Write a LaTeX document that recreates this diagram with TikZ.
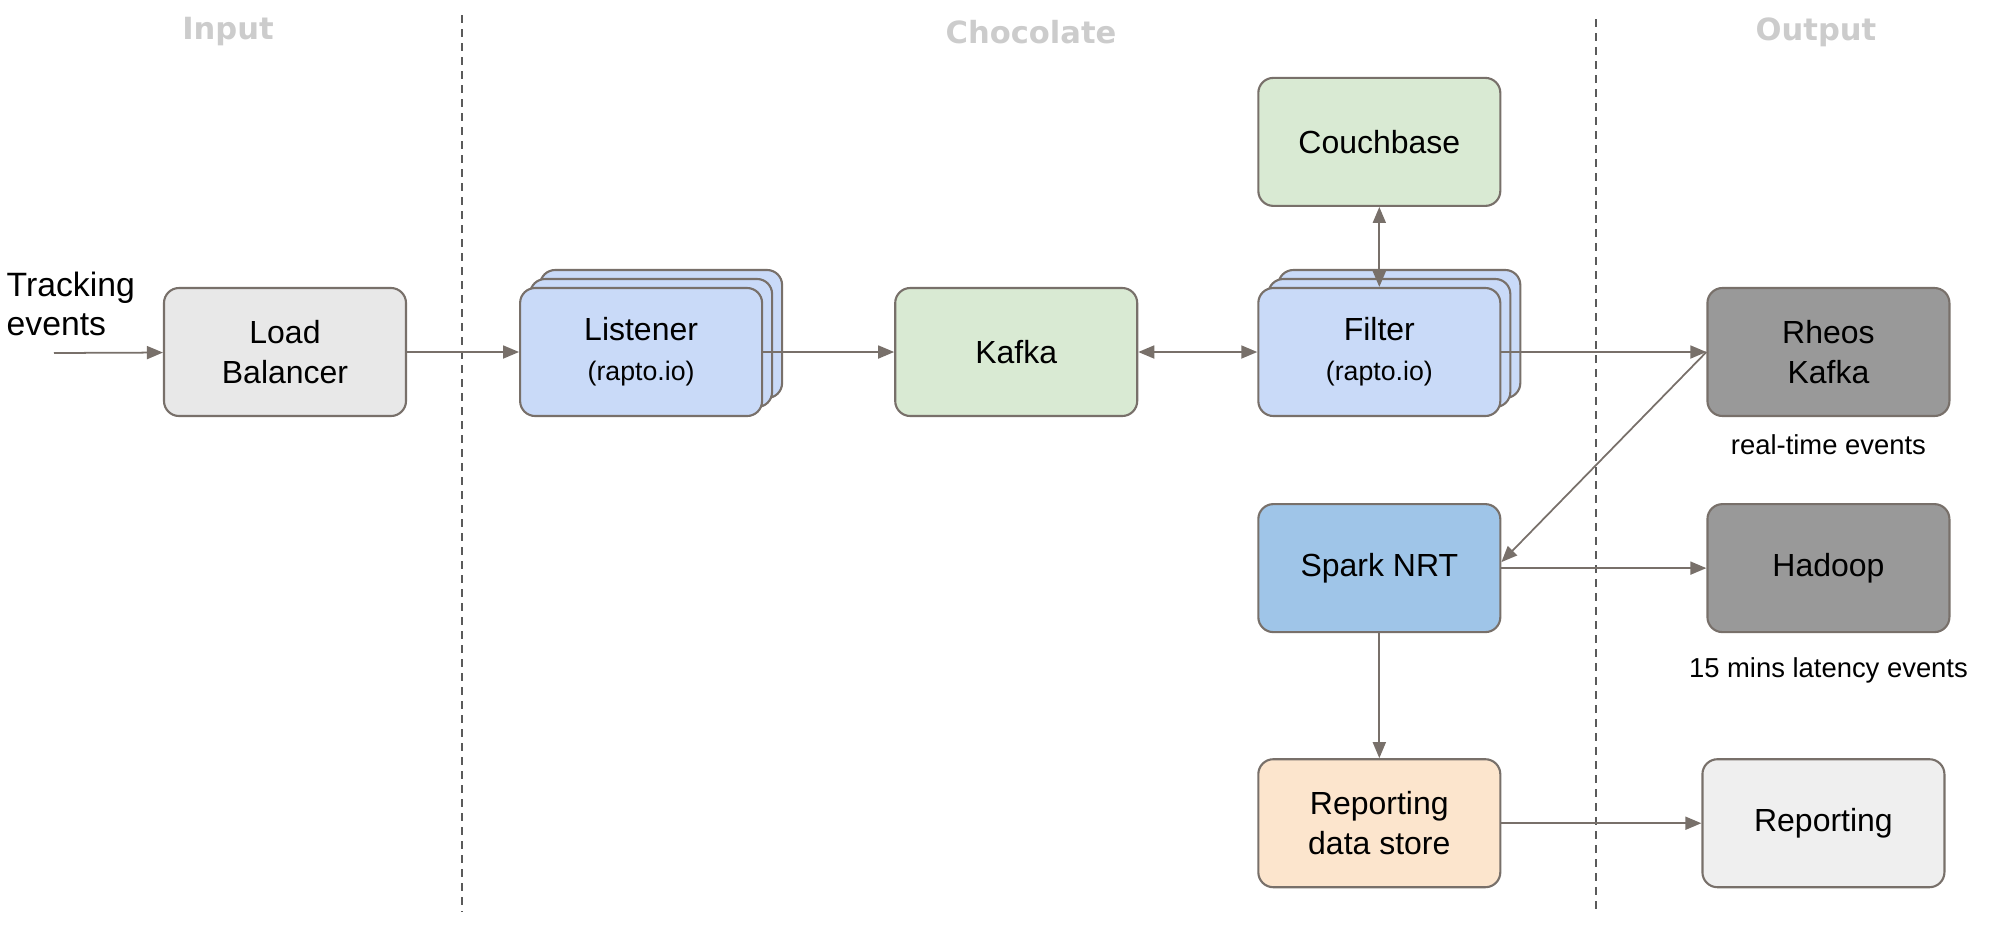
\documentclass[tikz,border=0pt]{standalone}
\usepackage{fontspec}
\setmainfont{Liberation Sans}
\newfontfamily\headfont{DejaVu Sans}
\usetikzlibrary{arrows.meta,positioning,shadows}

\definecolor{linegray}{RGB}{120,112,106}
\definecolor{lanegray}{RGB}{90,90,90}
\definecolor{titlegray}{HTML}{CCCCCC}
\definecolor{lbfill}{HTML}{E8E8E8}
\definecolor{raptofill}{HTML}{C9DAF8}
\definecolor{kafkafill}{HTML}{D9EAD3}
\definecolor{darkfill}{HTML}{999999}
\definecolor{sparkfill}{HTML}{9FC5E8}
\definecolor{storefill}{HTML}{FCE5CD}
\definecolor{reportfill}{HTML}{EFEFEF}

\newcommand{\tech}[1]{{\fontsize{7.6}{9}\selectfont #1}}

\begin{document}
\begin{tikzpicture}[
  box/.style={rectangle,rounded corners=1.5mm,draw=linegray,line width=0.6pt,
    minimum width=2.42cm,minimum height=1.28cm,inner sep=1pt,align=center,
    font=\fontsize{9.1}{11.4}\selectfont},
  stack/.style={box,fill=raptofill,double copy shadow={shadow xshift=1mm,shadow yshift=0.9mm}},
  flow/.style={->,>={Triangle[length=1.6mm,width=1.3mm]},draw=linegray,line width=0.5pt},
  note/.style={inner sep=0pt,font=\fontsize{7.8}{9}\selectfont},
  heading/.style={font=\headfont\bfseries\fontsize{8.7}{10}\selectfont,text=titlegray},
  lane/.style={draw=lanegray,line width=0.4pt,dash pattern=on 0.8mm off 0.6mm}]

  \useasboundingbox (0,0) rectangle (20.08,-9.26);

  % lanes
  \node[heading] (inputhead) at (2.28,-0.32) {Input};
  \node[heading] (chochead) at (10.31,-0.32) {Chocolate};
  \node[heading] (outhead) at (18.16,-0.32) {Output};
  \draw[lane] (4.62,-0.15) -- (4.62,-9.12);
  \draw[lane] (15.96,-0.19) -- (15.96,-9.13);

  % main row
  \node[box,fill=lbfill] (lb) at (2.85,-3.52) {Load\\Balancer};
  \node[stack] (listener) [right=1.12cm of lb] {Listener\\\tech{(rapto.io)}};
  \node[box,fill=kafkafill] (kafka) [right=1.31cm of listener] {Kafka};
  \node[stack] (filter) [right=1.19cm of kafka] {Filter\\\tech{(rapto.io)}};
  \node[box,fill=darkfill] (rheos) [right=2.05cm of filter] {Rheos\\Kafka};

  \node[box,fill=kafkafill] (couchbase) [above=0.80cm of filter] {Couchbase};
  \node[box,fill=sparkfill] (spark) [below=0.86cm of filter] {Spark NRT};
  \node[box,fill=darkfill] (hadoop) [right=2.05cm of spark] {Hadoop};
  \node[box,fill=storefill] (store) [below=1.25cm of spark] {Reporting\\data store};
  \node[box,fill=reportfill] (reporting) [right=2.00cm of store] {Reporting};

  \node[note] (rtnote) [below=0.17cm of rheos] {real-time events};
  \node[note] (latnote) [below=0.24cm of hadoop] {15 mins latency events};

  \node[anchor=west,align=left,inner sep=0pt,font=\fontsize{9.6}{11.2}\selectfont] (events) at (0.06,-3.04) {Tracking\\events};
  \coordinate (src) at (0.54,-3.53);

  \draw[flow] (src) -- (lb);
  \draw[flow] (lb) -- (listener);
  \draw[flow] (listener) -- (kafka);
  \draw[flow,<->] (kafka) -- (filter);
  \draw[flow,<->] (couchbase) -- (filter);
  \draw[flow] (filter) -- (rheos);
  \draw[flow] (rheos.west) -- ([yshift=0.06cm]spark.east);
  \draw[flow] (spark) -- (hadoop);
  \draw[flow] (spark) -- (store);
  \draw[flow] (store) -- (reporting);
\end{tikzpicture}
\end{document}
